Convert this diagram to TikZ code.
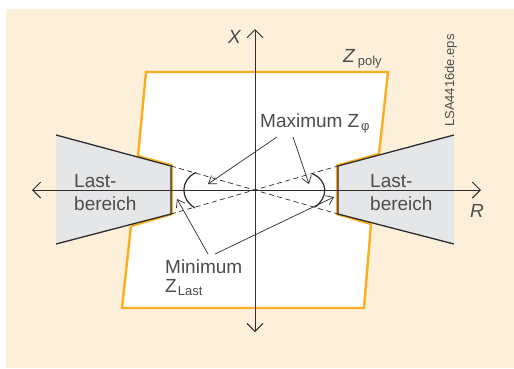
\documentclass[tikz,border=0pt]{standalone}
\usepackage{fontspec}
\setmainfont{Liberation Sans}
\definecolor{paper}{HTML}{FDF0DB}
\definecolor{polyline}{HTML}{FBAE1E}
\definecolor{loadfill}{HTML}{E5E6E8}
\definecolor{ink}{HTML}{2E2C2D}
\usetikzlibrary{arrows.meta, positioning}

\begin{document}
\begin{tikzpicture}[
  x=1pt, y=-1pt,
  every node/.style={font=\fontsize{19}{23}\selectfont, text=ink!85, inner sep=0pt},
  axis/.style={-{Straight Barb[length=8pt, width=16pt, line width=0.9pt]}, line width=0.9pt, color=ink},
  arrow/.style={-{Straight Barb[length=7pt, width=10pt, line width=0.7pt]}, line width=0.7pt, color=ink},
  load/.style={fill=loadfill, draw=none},
  edge/.style={line width=1.3pt, color=ink},
  poly/.style={line width=2.4pt, color=polyline, line join=miter},
  sector/.style={line width=0.7pt, dash pattern=on 5pt off 3.5pt, color=ink},
  angle/.style={line width=1.2pt, color=ink},
  small/.style={font=\fontsize{13}{15}\selectfont},
]
\useasboundingbox (0,0) rectangle (514,368);
\fill[white] (0,0) rectangle (514,368);
\fill[paper] (6,9) rectangle (514,368);

% Polygon
\fill[white] (146,72) -- (388,72) -- (364,308) -- (122,308) -- cycle;
\draw[poly] (138,156) -- (146,72) -- (388,72) -- (379,154);
\draw[poly] (371,224) -- (364,308) -- (122,308) -- (131,226);
\draw[poly] (138,156) -- (172,165.5) -- (172,214) -- (131,226);
\draw[poly] (379,154) -- (337,165.5) -- (337,214) -- (371,224);

% Load areas
\fill[load] (56,135) -- (171,166) -- (171,214) -- (56,244) -- cycle;
\fill[load] (454,135) -- (338,166) -- (338,214) -- (454,244) -- cycle;
\draw[edge] (56,135) -- (171,166) -- (171,214) -- (56,244);
\draw[edge] (454,135) -- (338,166) -- (338,214) -- (454,244);

\coordinate (centre) at (255,190);
\coordinate (leftend) at (32,190);
\coordinate (rightend) at (481,190);
\coordinate (topend) at (255,29);
\coordinate (botend) at (255,332);

% Axes
\draw[axis] (centre) -- (rightend);
\draw[axis] (centre) -- (leftend);
\draw[axis] (centre) -- (topend);
\draw[axis] (centre) -- (botend);

% Sector lines
\draw[sector] (171,166) -- (338,214);
\draw[sector] (171,214) -- (338,166);

% Angle arcs
\draw[angle] (196,172.5) .. controls (180,180) and (180,199) .. (195,208);
\draw[angle] (312,173.5) .. controls (329,181) and (328,198) .. (315,207);

\node[anchor=base west] (xlabel) at (228,43) {\itshape X};
\node[anchor=base west] (rlabel) at (470,217) {\itshape R};
\node[anchor=base west] (zpoly) at (343,62) {\itshape Z\kern3pt\normalfont\raisebox{-3pt}{\fontsize{13}{15}\selectfont poly}};
\node[anchor=base west] (maxlabel) at (260,127) {Maximum\kern5pt Z\kern2pt\raisebox{-3pt}{\fontsize{13}{15}\selectfont φ}};
\node[anchor=base west] (minlabel) at (165,273) {Minimum};
\node[anchor=base west] (zlast) at (165,292) {Z\kern1pt\raisebox{-3pt}{\fontsize{13}{15}\selectfont Last}};
\node[anchor=base west] (lastl) at (74,187) {Last-};
\node[anchor=base west] (berl) at (74,210) {bereich};
\node[anchor=base west] (lastr) at (370,187) {Last-};
\node[anchor=base west] (berr) at (370,210) {bereich};
\node[small, rotate=90, anchor=base west] (fileid) at (454,127) {LSA4416de.eps};

\coordinate (maxstartl) at (277,137);
\coordinate (maxstartr) at (293,137);
\coordinate (maxtipl) at (208,184);
\coordinate (maxtipr) at (309,184);
\coordinate (minstartl) at (208,254);
\coordinate (minstartr) at (215,254);
\coordinate (mintipl) at (177,199);
\coordinate (mintipr) at (334,197);

\draw[arrow] (maxstartl) -- (maxtipl);
\draw[arrow] (maxstartr) -- (maxtipr);
\draw[arrow] (minstartl) -- (mintipl);
\draw[arrow] (minstartr) -- (mintipr);

\end{tikzpicture}
\end{document}
